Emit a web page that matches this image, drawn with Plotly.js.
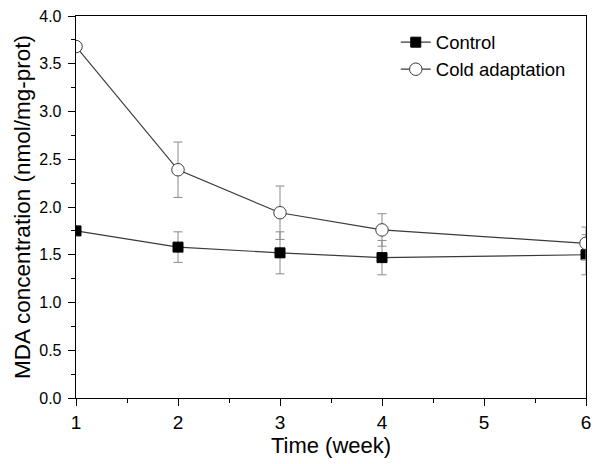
<!DOCTYPE html>
<html>
<head>
<meta charset="utf-8">
<script src="https://cdn.plot.ly/plotly-3.0.1.min.js"></script>
<style>html,body{margin:0;padding:0;background:#fff;}#chart{width:600px;height:464px;}</style>
</head>
<body>
<div id="chart"></div>
<script>
const weeks = [1, 2, 3, 4, 6];
const controlValues = [1.75, 1.58, 1.52, 1.47, 1.50];
const controlErrors = [0.03, 0.16, 0.22, 0.18, 0.21];
const coldValues = [3.68, 2.39, 1.94, 1.76, 1.62];
const coldErrors = [0.03, 0.29, 0.28, 0.17, 0.17];
const xTickValues = [1, 2, 3, 4, 5, 6];
const yTickValues = [0, 0.5, 1, 1.5, 2, 2.5, 3, 3.5, 4];
const yTickLabels = ['0.0','0.5','1.0','1.5','2.0','2.5','3.0','3.5','4.0'];

const errStyle = {type: 'data', visible: true, color: '#8a8a8a', thickness: 1, width: 4.5};

const traces = [
  {
    x: weeks, y: controlValues, name: 'Control', type: 'scatter', mode: 'lines+markers',
    line: {color: '#3a3a3a', width: 1.2},
    marker: {symbol: 'square', size: 10, color: '#000', line: {color: '#000', width: 1}},
    error_y: Object.assign({array: controlErrors}, errStyle)
  },
  {
    x: weeks, y: coldValues, name: 'Cold adaptation', type: 'scatter', mode: 'lines+markers',
    line: {color: '#3a3a3a', width: 1.2},
    marker: {symbol: 'circle', size: 12.5, color: '#fff', line: {color: '#3a3a3a', width: 1}},
    error_y: Object.assign({array: coldErrors}, errStyle)
  }
];

const layout = {
  width: 600, height: 464,
  margin: {l: 76, r: 14, t: 16, b: 66},
  paper_bgcolor: '#fff', plot_bgcolor: '#fff',
  font: {family: 'Liberation Sans, Arial, sans-serif', color: '#000', size: 15},
  showlegend: true,
  legend: {x: 0.627, y: 0.98, xanchor: 'left', yanchor: 'top', bgcolor: 'rgba(0,0,0,0)',
           font: {size: 18.5}, tracegroupgap: 0},
  xaxis: {
    range: [1, 6], tickvals: xTickValues, ticktext: xTickValues.map(String),
    ticks: 'outside', ticklen: 7, tickwidth: 1, tickcolor: '#000',
    showline: true, linecolor: '#000', linewidth: 1.3, mirror: true,
    showgrid: false, zeroline: false,
    minor: {dtick: 0.5, tick0: 1, ticks: 'outside', ticklen: 4, tickcolor: '#000', showgrid: false},
    tickfont: {size: 19},
    title: {text: 'Time (week)', font: {size: 22}, standoff: 0}
  },
  yaxis: {
    range: [0, 4], tickvals: yTickValues, ticktext: yTickLabels,
    ticks: 'outside', ticklen: 7, tickwidth: 1, tickcolor: '#000',
    ticklabelstandoff: 3,
    showline: true, linecolor: '#000', linewidth: 1.3, mirror: true,
    showgrid: false, zeroline: false,
    minor: {dtick: 0.25, tick0: 0, ticks: 'outside', ticklen: 4, tickcolor: '#000', showgrid: false},
    tickfont: {size: 16},
    title: {text: 'MDA concentration (nmol/mg-prot)', font: {size: 22.5}, standoff: 2}
  }
};

Plotly.newPlot('chart', traces, layout, {displayModeBar: false, staticPlot: true});
</script>
</body>
</html>
